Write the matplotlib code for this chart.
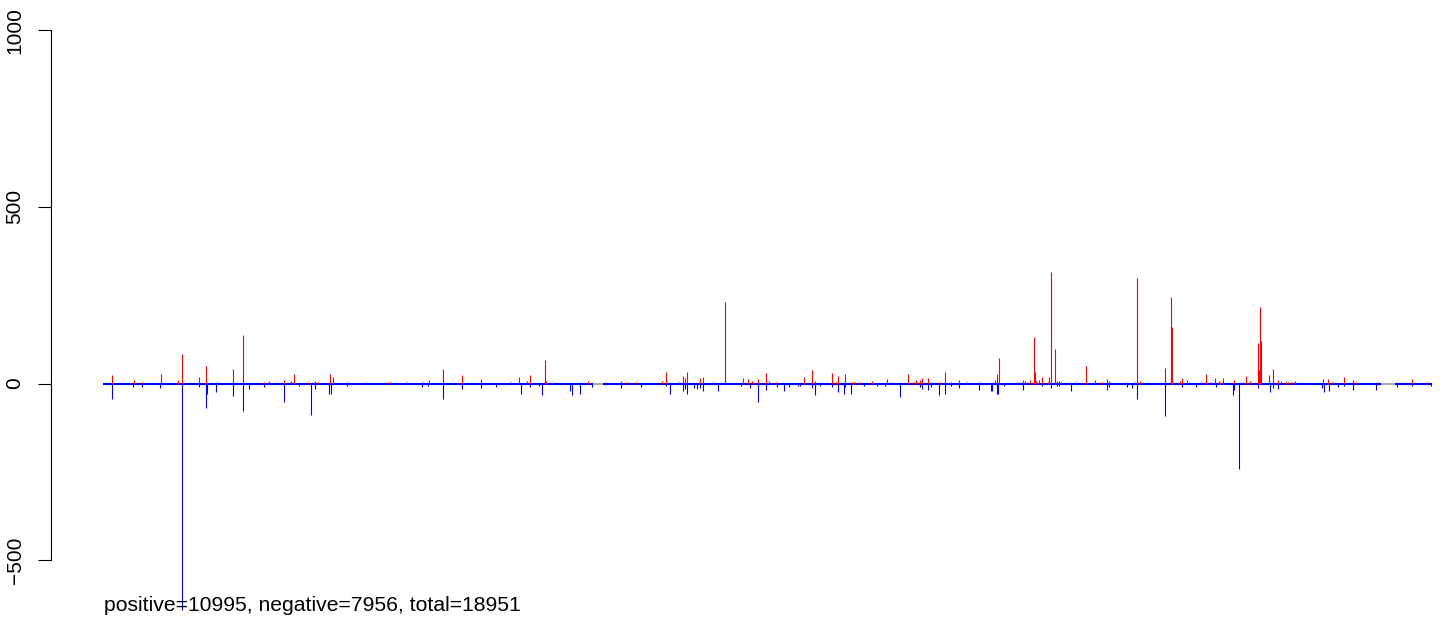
#!/usr/bin/env python
import matplotlib
matplotlib.use('Agg')
import matplotlib.pyplot as plt

# gene index (1..18951) and score of the spikes readable in the picture
POS_IDX = [133, 446, 560, 827, 1074, 1131, 1373, 1473, 1621, 1858, 2001, 2300, 2372,
           2585, 2685, 2728, 2928, 3027, 3070, 3241, 3284, 3484, 3740, 4068, 4111, 4339,
           4567, 4653, 4853, 5124, 5394, 5818, 5936, 6050, 6093, 6307, 6321, 6920, 7387,
           7462, 7605, 7976, 8033, 8218, 8275, 8304, 8332, 8518, 8561, 8703, 8874, 9131,
           9202, 9259, 9345, 9459, 9502, 9602, 10000, 10115, 10157, 10400, 10457, 10486,
           10585, 10685, 10714, 10799, 10970, 11184, 11241, 11484, 11569, 11598, 11655,
           11683, 11769, 11812, 11940, 12011, 12097, 12211, 12325, 12496, 12724, 12753,
           12781, 13038, 13124, 13152, 13223, 13280, 13295, 13309, 13352, 13394, 13480,
           13494, 13523, 13580, 13608, 13637, 13665, 13779, 13865, 14022, 14150, 14250,
           14321, 14350, 14578, 14721, 14749, 14792, 15148, 15234, 15248, 15362, 15391,
           15462, 15662, 15733, 15804, 15861, 15918, 15933, 15975, 16133, 16261, 16304,
           16361, 16475, 16489, 16504, 16518, 16632, 16689, 16760, 16803, 16874, 16903,
           16960, 17003, 17402, 17473, 17530, 17701, 17829, 17872, 18671, 18885]
POS_VAL = [24, 10, 5, 27, 10, 83, 18, 50, 5, 41, 137, 5, 7,
           10, 7, 27, 5, 8, 5, 27, 18, 5, 5, 5, 5, 5,
           5, 10, 41, 24, 13, 4, 18, 7, 24, 66, 7, 7, 7,
           4, 4, 7, 33, 4, 21, 16, 33, 16, 18, 4, 231, 16,
           13, 7, 13, 30, 7, 4, 18, 38, 7, 30, 4, 21,
           27, 4, 4, 4, 7, 13, 4, 27, 4, 10, 10,
           16, 16, 4, 4, 33, 4, 10, 4, 4, 10, 27,
           72, 4, 10, 7, 10, 132, 33, 7, 10, 18, 4,
           18, 316, 98, 7, 7, 4, 4, 4, 50, 10, 4,
           13, 7, 4, 4, 299, 7, 44, 245, 160, 7, 16,
           10, 4, 27, 4, 16, 7, 4, 16, 10, 4, 21,
           7, 115, 38, 217, 121, 24, 41, 10, 7, 4, 4,
           4, 7, 13, 13, 4, 18, 10, 4, 13, 4]

NEG_IDX = [133, 432, 560, 817, 1131, 1373, 1473, 1487, 1616, 1858, 2001, 2086, 2296,
           2581, 2790, 2970, 3027, 3227, 3256, 3484, 4553, 4639, 4853, 5124, 5394, 5608,
           5965, 6093, 6222, 6264, 6664, 6692, 6806, 6977, 7387, 7676, 8033, 8090, 8275,
           8304, 8332, 8432, 8475, 8518, 8561, 8774, 9102, 9231, 9345, 9459, 9616, 9715,
           9787, 9915, 9943, 10115, 10157, 10229, 10400, 10486, 10571, 10585, 10671, 10856,
           11041, 11155, 11369, 11655, 11683, 11769, 11812, 11925, 12011, 12097, 12211,
           12496, 12667, 12681, 12753, 12767, 12852, 13124, 13394, 13523, 13608, 13637,
           13808, 14321, 14350, 14607, 14678, 14749, 15148, 15391, 15590, 15876, 16118,
           16133, 16204, 16475, 16646, 16689, 16760, 17388, 17416, 17487, 17615, 17701,
           17829, 18157, 18457, 18671, 18942]
NEG_VAL = [-44, -9, -9, -12, -640, -9, -68, -29, -23, -35, -77, -15, -9,
           -52, -6, -88, -15, -29, -29, -6, -9, -8, -43, -15, -12, -9,
           -29, -9, -6, -32, -20, -32, -29, -9, -12, -9, -6, -29, -20,
           -15, -29, -12, -15, -12, -20, -20, -6, -12, -52, -18, -9, -20,
           -9, -6, -6, -12, -32, -6, -9, -23, -29, -9, -29, -6,
           -6, -6, -37, -9, -15, -18, -9, -32, -29, -6, -12,
           -18, -20, -20, -29, -29, -6, -18, -6, -12, -6, -6,
           -20, -18, -9, -9, -12, -43, -92, -9, -9, -9, -32,
           -18, -242, -12, -23, -12, -15, -12, -23, -20, -9, -6,
           -18, -18, -9, -6, -6]

# stretches of the index where no bars are drawn (only the grey zero line shows)
GAPS = [(6990, 7135), (18220, 18420)]

N_POS, N_NEG = 10995, 7956
N_TOTAL = N_POS + N_NEG
YTICKS = [-500, 0, 500, 1000]

W, H, DPI = 1444, 622, 100


def score_plot():
    fig = plt.figure(figsize=(W / DPI, H / DPI), dpi=DPI)
    ax = fig.add_axes([51 / W, 0, 1 - 51 / W, 1])
    ax.set_xlim(-741, 19123)
    ax.set_ylim(-675, 1085.5)

    ax.hlines(0, 1, N_TOTAL, color='#aaaaaa', lw=1.5, zorder=1)
    edges = [1] + [v for g in GAPS for v in g] + [N_TOTAL]
    for a, b in zip(edges[0::2], edges[1::2]):
        ax.hlines(0, a, b, color='blue', lw=1.5, zorder=2)

    ax.vlines(POS_IDX, 0, POS_VAL, color='red', lw=0.8, zorder=3)
    ax.vlines(NEG_IDX, 0, NEG_VAL, color='blue', lw=0.8, zorder=3)

    for side in ['top', 'right', 'bottom']:
        ax.spines[side].set_visible(False)
    ax.spines['left'].set_bounds(YTICKS[0], YTICKS[-1])
    ax.spines['left'].set_linewidth(0.8)
    ax.set_xticks([])
    ax.set_yticks(YTICKS)
    ax.set_yticklabels(['\u2212500', '0', '500', '1000'])
    ax.tick_params(axis='y', length=9.5, width=0.8, pad=9.5, labelsize=15,
                   labelrotation=90)
    for lab in ax.get_yticklabels():
        lab.set_verticalalignment('center')
        lab.set_family('Liberation Sans')

    fig.text(104 / W, (H - 611) / H,
             'positive=%d, negative=%d, total=%d' % (N_POS, N_NEG, N_TOTAL),
             family='Liberation Sans', fontsize=15.2, va='baseline', ha='left')
    return fig


def main():
    fig = score_plot()
    fig.savefig('out.png', dpi=DPI)


if __name__ == "__main__":
    main()
